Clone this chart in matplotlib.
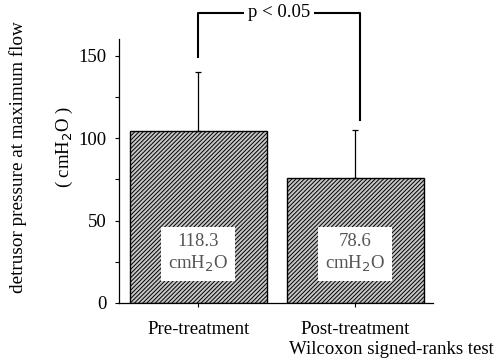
import matplotlib

matplotlib.use("Agg")
import matplotlib.pyplot as plt
from matplotlib.ticker import MultipleLocator

# data
groups = ["Pre-treatment", "Post-treatment"]
means = [104, 76]
sd_upper = [36, 29]
box_labels = ["118.3\ncmH$_2$O", "78.6\ncmH$_2$O"]
p_text = "p < 0.05"
test_text = "Wilcoxon signed-ranks test"

plt.rcParams["font.family"] = ["Liberation Serif", "DejaVu Serif"]
plt.rcParams["font.size"] = 13.5
plt.rcParams["hatch.color"] = "#8a8a8a"
plt.rcParams["hatch.linewidth"] = 0.7

fig = plt.figure(figsize=(4.95, 3.62), dpi=100)
ax = fig.add_axes([0.240, 0.163, 0.635, 0.729])

x = list(range(len(groups)))
ax.bar(x, means, width=0.875, color="#c6c6c6", edgecolor="black",
       linewidth=1.0, hatch="////////", zorder=2)
ax.errorbar(x, means, yerr=[[0, 0], sd_upper], fmt="none", ecolor="black",
            elinewidth=0.9, capsize=2, capthick=0.9, zorder=3)

for xi, lab in zip(x, box_labels):
    ax.text(xi, 30, lab, ha="center", va="center", fontsize=13.5,
            color="#555555", linespacing=1.25, zorder=4,
            bbox=dict(facecolor="white", edgecolor="none", pad=5))

# significance bracket
ax.plot([0, 0, 1.03, 1.03], [149, 176, 176, 111], color="black",
        linewidth=1.5, clip_on=False, zorder=3)
ax.text(0.515, 176, p_text, ha="center", va="center", fontsize=13.5,
        bbox=dict(facecolor="white", edgecolor="none", pad=3), zorder=4)

ax.set_xlim(-0.508, 1.498)
ax.set_ylim(0, 160)
ax.set_yticks([0, 50, 100, 150])
ax.yaxis.set_minor_locator(MultipleLocator(25))
ax.set_xticks(x)
ax.set_xticklabels(groups)
ax.tick_params(axis="y", which="major", length=3, width=0.8, pad=6)
ax.tick_params(axis="y", which="minor", length=3, width=0.8)
ax.tick_params(axis="x", length=3, width=0.8, pad=10)
for s in ["top", "right"]:
    ax.spines[s].set_visible(False)
ax.spines["left"].set_linewidth(0.9)
ax.spines["bottom"].set_linewidth(0.9)

fig.text(0.036, 0.566, "detrusor pressure at maximum flow", rotation=90,
         ha="center", va="center", fontsize=13.8)
fig.text(0.131, 0.595, "( cmH$_2$O )", rotation=90, ha="center",
         va="center", fontsize=13.5)
fig.text(0.998, 0.035, test_text, ha="right", va="center", fontsize=13.5)

fig.savefig("out.png", dpi=100)
